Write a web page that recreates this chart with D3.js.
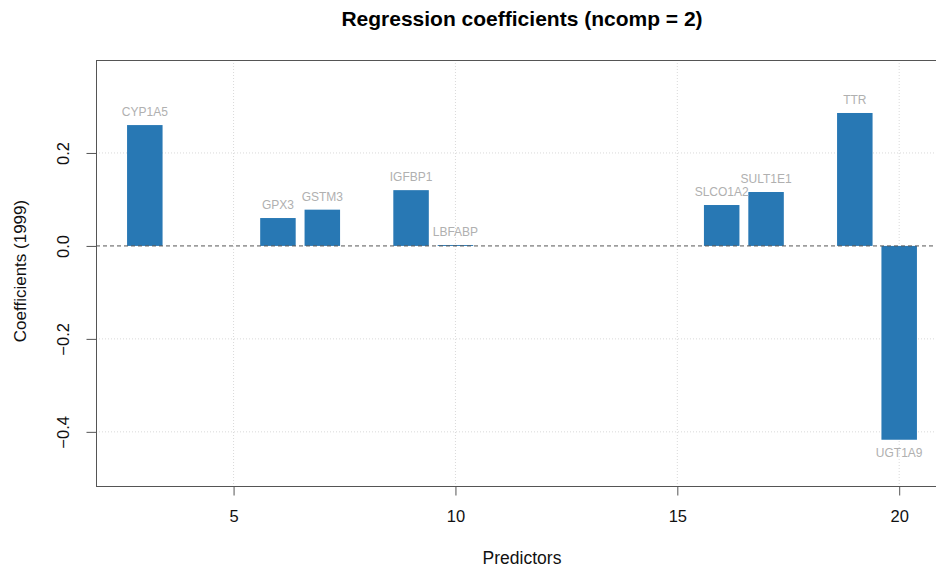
<!DOCTYPE html>
<html>
<head>
<meta charset="utf-8">
<script src="https://cdn.jsdelivr.net/npm/d3@7"></script>
<style>
  html, body { margin: 0; padding: 0; background: #fff; }
  svg { display: block; font-family: "Liberation Sans", Arial, sans-serif; }
</style>
</head>
<body>
<script>
// Predictor index, gene name and PLS regression coefficient (ncomp = 2)
const predictors = [3, 6, 7, 9, 10, 16, 17, 19, 20];
const genes = ["CYP1A5", "GPX3", "GSTM3", "IGFBP1", "LBFABP", "SLCO1A2", "SULT1E1", "TTR", "UGT1A9"];
const coefficients = [0.26, 0.06, 0.078, 0.12, 0.002, 0.088, 0.116, 0.286, -0.417];
const xTicks = [5, 10, 15, 20];
const yTicks = [-0.4, -0.2, 0.0, 0.2];

const W = 936, H = 570;
const plotLeft = 96, plotTop = 60, plotRight = 948, plotBottom = 486;

const svg = d3.select("body").append("svg")
  .attr("width", W).attr("height", H);

const x = d3.scaleLinear().domain([1.9, 21.1]).range([plotLeft, plotRight]);
const y = d3.scaleLinear().domain([-0.5165, 0.4]).range([plotBottom, plotTop]);
const barW = x(0.8) - x(0);

// grid
const grid = svg.append("g").attr("stroke", "#d9d9d9").attr("stroke-dasharray", "1,2").attr("stroke-width", 1);
grid.selectAll("line.v").data(xTicks).join("line")
  .attr("class", "v")
  .attr("x1", d => x(d)).attr("x2", d => x(d))
  .attr("y1", plotTop).attr("y2", plotBottom);
grid.selectAll("line.h").data(yTicks.filter(d => d !== 0)).join("line")
  .attr("class", "h")
  .attr("x1", plotLeft).attr("x2", plotRight)
  .attr("y1", d => y(d)).attr("y2", d => y(d));

// bars
const data = predictors.map((p, i) => ({ p, gene: genes[i], v: coefficients[i] }));
svg.append("g").selectAll("rect").data(data).join("rect")
  .attr("x", d => x(d.p) - barW / 2)
  .attr("width", barW)
  .attr("y", d => y(Math.max(0, d.v)))
  .attr("height", d => Math.abs(y(d.v) - y(0)))
  .attr("fill", "#2878b4");

// zero reference line
svg.append("line")
  .attr("x1", plotLeft).attr("x2", plotRight)
  .attr("y1", y(0)).attr("y2", y(0))
  .attr("stroke", "#555").attr("stroke-dasharray", "4,3").attr("stroke-width", 1);

// gene labels
svg.append("g").selectAll("text").data(data).join("text")
  .attr("x", d => x(d.p))
  .attr("y", d => d.v >= 0 ? y(d.v) - 9 : y(d.v) + 17)
  .attr("text-anchor", "middle")
  .attr("font-size", 12)
  .attr("fill", "#b0b0b0")
  .text(d => d.gene);

// plot box
svg.append("rect")
  .attr("x", plotLeft + 0.5).attr("y", plotTop + 0.5)
  .attr("width", plotRight - plotLeft).attr("height", plotBottom - plotTop)
  .attr("fill", "none").attr("stroke", "#555").attr("stroke-width", 1);

// x axis
const xAxis = d3.axisBottom(x).tickValues(xTicks).tickSize(9).tickPadding(15).tickFormat(d3.format("d"));
svg.append("g").attr("transform", `translate(0,${plotBottom + 0.5})`).call(xAxis)
  .call(g => g.select(".domain").remove())
  .call(g => g.selectAll("line").attr("stroke", "#555"))
  .call(g => g.selectAll("text").attr("font-size", 16.5).attr("fill", "#111")
    .attr("font-family", "Liberation Sans, Arial, sans-serif"));

// y axis with rotated labels
const yAxis = d3.axisLeft(y).tickValues(yTicks).tickSize(10).tickFormat(d3.format(".1f"));
const yg = svg.append("g").attr("transform", `translate(${plotLeft + 0.5},0)`).call(yAxis);
yg.select(".domain").remove();
yg.selectAll("line").attr("stroke", "#555");
yg.selectAll("text").remove();
yg.selectAll(".tick").append("text")
  .attr("transform", "translate(-28,0) rotate(-90)")
  .attr("text-anchor", "middle")
  .attr("font-size", 16.5).attr("fill", "#111")
  .attr("font-family", "Liberation Sans, Arial, sans-serif")
  .text(d => d3.format(".1f")(d).replace("-", "\u2212"));

// titles
svg.append("text")
  .attr("x", (plotLeft + plotRight) / 2).attr("y", 26)
  .attr("text-anchor", "middle")
  .attr("font-size", 21).attr("font-weight", "bold").attr("fill", "#000")
  .text("Regression coefficients (ncomp = 2)");

svg.append("text")
  .attr("x", (plotLeft + plotRight) / 2).attr("y", 564)
  .attr("text-anchor", "middle")
  .attr("font-size", 17.5).attr("fill", "#111")
  .text("Predictors");

svg.append("text")
  .attr("transform", "translate(26,271) rotate(-90)")
  .attr("text-anchor", "middle")
  .attr("font-size", 17).attr("fill", "#111")
  .text("Coefficients (1999)");
</script>
</body>
</html>
